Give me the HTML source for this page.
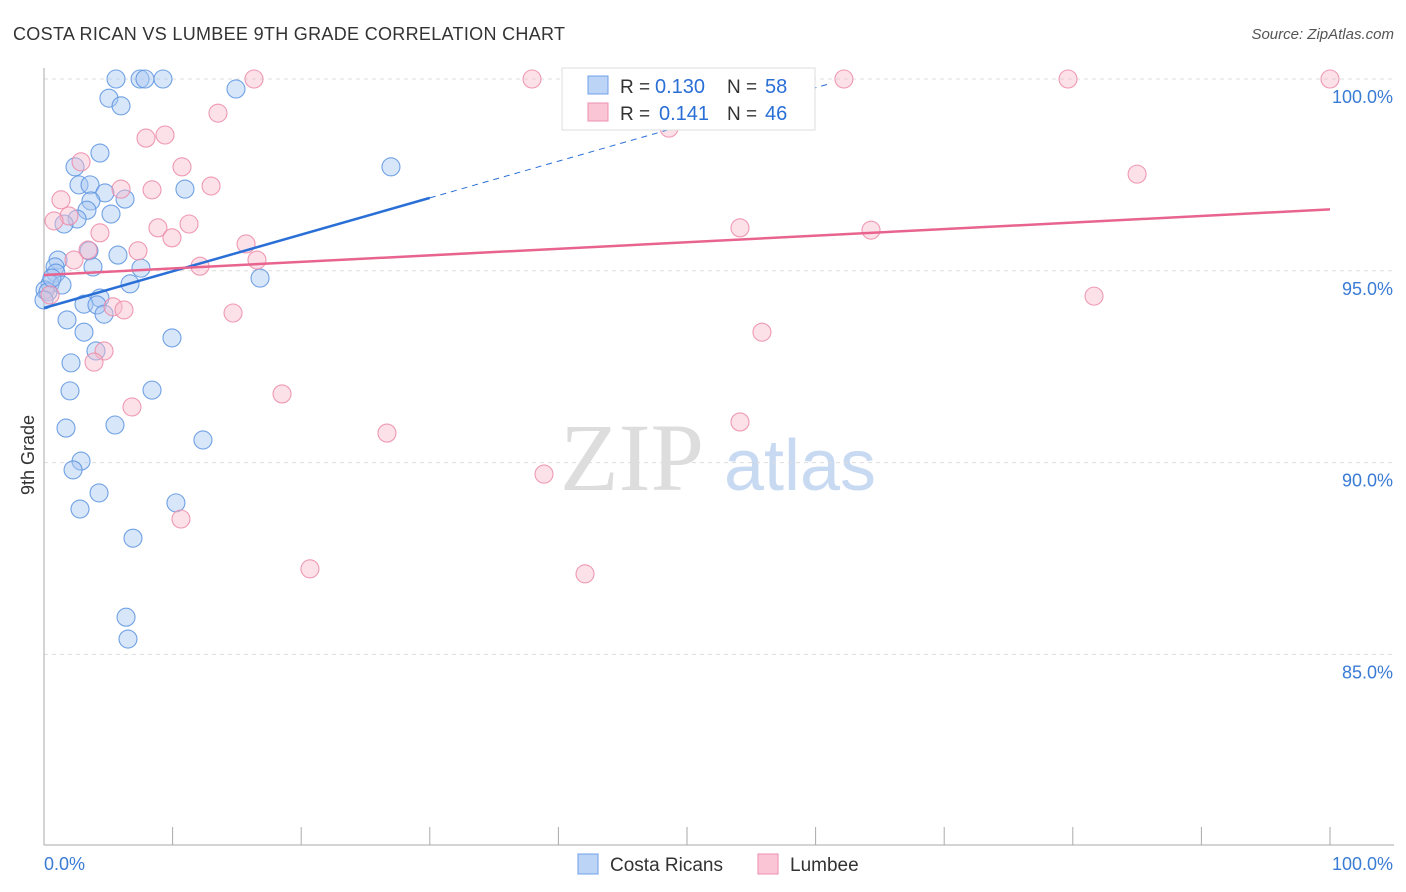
<!DOCTYPE html>
<html><head><meta charset="utf-8"><style>
body{margin:0;background:#fff;font-family:"Liberation Sans",sans-serif;}
svg{display:block}
</style></head><body>
<svg id="chart" width="1406" height="892">
<text x="13" y="40" font-size="18" fill="#333" textLength="552">COSTA RICAN VS LUMBEE 9TH GRADE CORRELATION CHART</text>
<text x="1394" y="39" font-size="15" fill="#555" font-style="italic" text-anchor="end">Source: ZipAtlas.com</text>
<text x="632" y="490" font-size="96" fill="#ddd" font-family="Liberation Serif,serif" text-anchor="middle">ZIP</text>
<text x="800" y="490" font-size="72" fill="#c8daf2" text-anchor="middle">atlas</text>
<g id="grid"></g><g id="axes"></g><g id="pts"></g><g id="lines"></g>
<text transform="translate(34,455) rotate(-90)" font-size="18" fill="#333" text-anchor="middle">9th Grade</text>
<g>
<rect x="562" y="68" width="253" height="62" fill="#fff" stroke="#ddd"/>
<rect x="588" y="76" width="20" height="18" fill="#bcd4f6" stroke="#6fa0e8"/>
<rect x="588" y="103" width="20" height="18" fill="#fac6d6" stroke="#ee8fae"/>
<text x="620" y="93" font-size="19" fill="#333">R =</text>
<text x="655" y="93" font-size="20" fill="#2a6fd6">0.130</text>
<text x="727" y="93" font-size="19" fill="#333">N =</text>
<text x="765" y="93" font-size="20" fill="#2a6fd6">58</text>
<text x="620" y="120" font-size="19" fill="#333">R =</text>
<text x="659" y="120" font-size="20" fill="#2a6fd6">0.141</text>
<text x="727" y="120" font-size="19" fill="#333">N =</text>
<text x="765" y="120" font-size="20" fill="#2a6fd6">46</text>
</g>
<g>
<rect x="578" y="854" width="20" height="20" fill="#bcd4f6" stroke="#6fa0e8"/>
<text x="610" y="871" font-size="19" fill="#333">Costa Ricans</text>
<rect x="758" y="854" width="20" height="20" fill="#fac6d6" stroke="#ee8fae"/>
<text x="790" y="871" font-size="19" fill="#333">Lumbee</text>
</g>
</svg>
<script>
const yTicks=[100,95,90,85];
const xTickLabels=["0.0%","100.0%"];
const blueX=[5.6,7.47,7.85,9.25,14.93,5.05,5.99,4.35,2.41,26.98,2.72,3.58,10.96,4.74,6.3,3.65,3.34,5.21,2.57,1.56,3.5,5.75,1.09,0.86,3.81,7.54,0.93,16.8,6.69,0.47,1.4,0.08,0.31,4.35,3.11,4.12,4.67,1.79,3.11,9.95,4.04,2.1,2.02,8.4,1.71,5.52,12.36,2.88,2.26,4.28,10.26,2.8,6.92,6.38,6.53,0,0.62];
const blueY=[100,100,100,100,99.74,99.5,99.3,98.07,97.71,97.71,97.24,97.24,97.13,97.03,96.87,96.82,96.58,96.48,96.35,96.22,95.52,95.41,95.28,95.1,95.1,95.07,94.94,94.81,94.66,94.66,94.63,94.5,94.45,94.29,94.13,94.11,93.87,93.72,93.4,93.25,92.91,92.6,91.87,91.89,90.9,90.98,90.59,90.04,89.81,89.21,88.95,88.79,88.03,85.97,85.4,94.24,94.81];
const pinkX=[16.33,37.95,62.2,79.63,100,13.53,7.93,9.41,2.88,10.73,5.99,8.4,12.99,1.32,1.94,0.78,4.35,8.86,11.28,9.95,54.12,64.31,85,48.6,3.42,7.31,15.71,2.33,16.56,12.13,81.65,5.37,6.22,14.7,55.83,4.67,3.89,6.84,18.51,26.67,54.12,38.88,10.65,20.68,42.07,0.47];
const pinkY=[100,100,100,100,100,99.11,98.46,98.54,97.84,97.71,97.13,97.11,97.21,96.85,96.43,96.3,95.99,96.12,96.22,95.86,96.12,96.06,97.52,98.72,95.54,95.52,95.7,95.28,95.28,95.12,94.34,94.06,93.98,93.9,93.4,92.91,92.62,91.45,91.79,90.77,91.06,89.7,88.53,87.23,87.1,94.37];
const blueTrend=[94.03,0.0957];
const pinkTrend=[94.89,0.0171];
const NS="http://www.w3.org/2000/svg";
const X=v=>44+v*12.86, Y=v=>79+(100-v)*38.36;
function mk(t,a,p){const e=document.createElementNS(NS,t);for(const k in a)e.setAttribute(k,a[k]);document.getElementById(p).appendChild(e);return e;}
yTicks.forEach(t=>{
 const l=mk('line',{x1:44,x2:1394,y1:Y(t),y2:Y(t),stroke:'#ddd','stroke-dasharray':'4,4'},'grid');
 
 
 const tx=mk('text',{x:1393,y:Y(t)+24,'font-size':18,fill:'#3a7bd5','text-anchor':'end'},'grid');
 tx.textContent=t.toFixed(1)+'%';
 
 
});
const ax=mk('line',{x1:44,x2:44,y1:68,y2:845,stroke:'#aaa'},'axes');


const bx=mk('line',{x1:44,x2:1394,y1:845,y2:845,stroke:'#aaa'},'axes');


for(let i=0;i<=10;i++){const t=mk('line',{x1:X(i*10),x2:X(i*10),y1:827,y2:845,stroke:'#aaa'},'axes');
 
 }
xTickLabels.forEach((s,i)=>{const t=mk('text',{x:i?1393:44,y:870,'font-size':18,fill:'#3a7bd5','text-anchor':i?'end':'start'},'axes');t.textContent=s;
 
 });
function pts(xs,ys,f,s,n){xs.forEach((x,i)=>{const c=mk('circle',{cx:X(x),cy:Y(ys[i]),r:9,fill:f,'fill-opacity':0.45,stroke:s,'stroke-width':1.1,'stroke-opacity':0.85},'pts');
 
 });}
pts(blueX,blueY,'#a9c8f2','#5b93e0','costa-rican-point');
pts(pinkX,pinkY,'#f8bccd','#ec8aa8','lumbee-point');
const bs=mk('line',{x1:X(0),y1:Y(blueTrend[0]),x2:X(30),y2:Y(blueTrend[0]+30*blueTrend[1]),stroke:'#2a6fd6','stroke-width':2.5},'lines');


const bd=mk('line',{x1:X(30),y1:Y(blueTrend[0]+30*blueTrend[1]),x2:X(61),y2:Y(blueTrend[0]+61*blueTrend[1]),stroke:'#2a6fd6','stroke-width':1,'stroke-dasharray':'6,5'},'lines');


const pl=mk('line',{x1:X(0),y1:Y(pinkTrend[0]),x2:X(100),y2:Y(pinkTrend[0]+100*pinkTrend[1]),stroke:'#e8648e','stroke-width':2.5},'lines');


</script>
</body></html>
